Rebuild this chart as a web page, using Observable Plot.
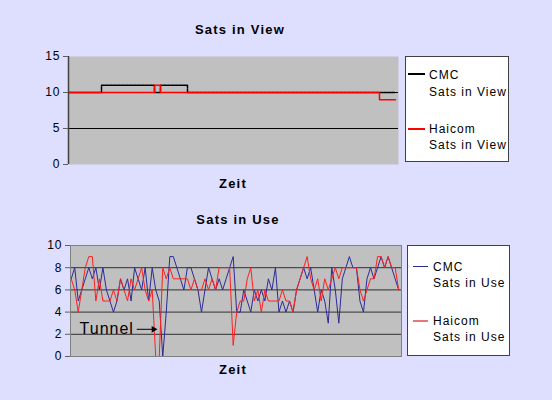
<!DOCTYPE html>
<html><head><meta charset="utf-8">
<script src="https://cdn.jsdelivr.net/npm/d3@7"></script>
<script src="https://cdn.jsdelivr.net/npm/@observablehq/plot@0.6"></script>
<style>
html,body{margin:0;padding:0;background:#dedefe;}
#wrap{position:relative;width:552px;height:400px;background:#dedefe;font-family:"Liberation Sans",Arial,sans-serif;overflow:hidden;color:#000;}
.abs{position:absolute;white-space:nowrap;}
.title{font-weight:bold;font-size:13px;letter-spacing:1.2px;line-height:15px;transform:translateX(-50%);}
.legend{position:absolute;background:#fff;border:1px solid #404040;box-sizing:border-box;}
.lt{position:absolute;font-size:12px;letter-spacing:1px;line-height:16px;white-space:nowrap;}
.ls{position:absolute;height:0;border-top:2px solid #000;}
</style></head>
<body><div id="wrap"></div>
<script>
// ---- Data: Sats in View (step data; Zeit positions in sample units) ----
const zeitView    = [0, 33, 86, 92, 119, 311, 327];
const cmcView     = [10, 11, 10, 11, 10, 10, 10];
const haicomView  = [10, 10, 11, 10, 10, 9, 9];
const viewTicks   = [0, 5, 10, 15];

// ---- Data: Sats in Use (one sample per time step) ----
const cmcUse = [7,8,5,6,7,8,7,8,6,8,6,5,4,5,7,6,7,5,8,7,6,8,5,8,6,5,0,4,9,9,8,7,6,8,8,7,6,4,6,8,7,6,7,6,7,8,9,4,4,6,5,4,6,5,6,5,7,6,8,4,5,4,5,4,6,7,8,7,8,6,4,6,5,3,8,6,3,7,8,9,8,8,5,4,7,8,7,8,9,8,9,8,7,6];
const haicomUse = [7,6,4,6,8,9,9,5,7,5,5,5,6,5,7,6,5,7,6,7,8,6,5,6,0,0,8,7,8,7,7,7,7,7,6,7,6,6,7,6,7,6,8,8,8,8,1,4,5,5,7,8,5,6,4,6,5,5,5,5,6,5,5,4,6,7,8,9,7,6,7,5,7,6,7,8,7,8,8,8,8,8,6,5,6,7,7,9,9,8,9,8,8,6];
const useTicks = [0, 2, 4, 6, 8, 10];
const tunnelLabel = "Tunnel";

const wrap = document.getElementById("wrap");
const font = {fontFamily: "Liberation Sans, Arial, sans-serif", fontSize: "12px", letterSpacing: "1px", background: "transparent", color: "#000", overflow: "visible"};

function place(el, top) { el.style.position = "absolute"; el.style.left = "0px"; el.style.top = top + "px"; wrap.appendChild(el); }
function div(cls, txt, left, top, extra) { const d = document.createElement("div"); d.className = cls; if (txt) d.textContent = txt; d.style.left = left + "px"; d.style.top = top + "px"; if (extra) Object.assign(d.style, extra); wrap.appendChild(d); return d; }

// ---- Panel 1 ----
const viewData = zeitView.flatMap((t, i) => [
  {t, v: cmcView[i], s: "CMC"},
  {t, v: haicomView[i], s: "Haicom"}
]);
const p1 = Plot.plot({
  width: 552, height: 200,
  marginLeft: 68, marginRight: 154, marginTop: 56, marginBottom: 36,
  style: font,
  x: {domain: [0, 330], axis: null},
  y: {domain: [0, 15], ticks: viewTicks, tickSize: 5, tickPadding: 3, label: null},
  marks: [
    Plot.frame({fill: "#c0c0c0", stroke: null}),
    Plot.ruleY([5, 10], {stroke: "#000", strokeWidth: 1}),
    Plot.line(viewData, {filter: d => d.s === "CMC", x: "t", y: "v", curve: "step-after", stroke: "#000", strokeWidth: 1.5, strokeDasharray: "3,1"}),
    Plot.line(viewData, {filter: d => d.s === "Haicom", x: "t", y: "v", curve: "step-after", stroke: "#ff0000", strokeWidth: 1.5}),
    Plot.ruleX([0], {stroke: "#404040", strokeWidth: 1.5}),
    Plot.axisY({ticks: viewTicks, tickSize: 5, tickPadding: 3, stroke: "#606060", fontSize: 12, label: null})
  ]
});
place(p1, 0);

// ---- Panel 2 ----
const useData = cmcUse.map((v, i) => ({t: i, cmc: v, hai: haicomUse[i]}));
const tIdx = haicomUse.indexOf(0);
const tunnel = [{x1: tIdx - 5.4, x2: tIdx - 0.6, y: 2.45, label: tunnelLabel}];
const p2 = Plot.plot({
  width: 552, height: 200,
  marginLeft: 70, marginRight: 151, marginTop: 45, marginBottom: 44,
  style: font,
  x: {domain: [-0.2, cmcUse.length - 0.2], axis: null},
  y: {domain: [0, 10], ticks: useTicks, tickSize: 5, tickPadding: 3, label: null},
  marks: [
    Plot.frame({fill: "#c0c0c0", stroke: null}),
    Plot.ruleY([2, 4, 6, 8], {stroke: "#303030", strokeWidth: 1}),
    Plot.line(useData, {x: "t", y: "cmc", stroke: "#2b2b99", strokeWidth: 1}),
    Plot.line(useData, {x: "t", y: "hai", stroke: "#ff2020", strokeWidth: 1}),
    Plot.link(tunnel, {x1: "x1", x2: "x2", y1: "y", y2: "y", stroke: "#000", strokeWidth: 1}),
    Plot.dot(tunnel, {x: "x2", y: "y", symbol: "triangle2", rotate: 90, r: 3.2, fill: "#000", stroke: null}),
    Plot.text(tunnel, {x: d => d.x1 - 0.8, y: "y", text: "label", textAnchor: "end", fontSize: 16, fill: "#000"}),
    Plot.frame({stroke: "#808080", fill: null}),
    Plot.axisY({ticks: useTicks, tickSize: 5, tickPadding: 3, stroke: "#606060", fontSize: 12, label: null})
  ]
});
place(p2, 200);

// ---- Titles ----
div("abs title", "Sats in View", 240, 22);
div("abs title", "Zeit", 233, 176);
div("abs title", "Sats in Use", 238, 212);
div("abs title", "Zeit", 233, 362);

// ---- Legends ----
div("legend", "", 405, 56, {width: "104px", height: "106px"});
div("ls", "", 408, 73, {width: "17px", borderTopColor: "#000"});
div("lt", "CMC", 429, 67);
div("lt", "Sats in View", 429, 84);
div("ls", "", 408, 128, {width: "17px", borderTopColor: "#ff0000"});
div("lt", "Haicom", 429, 121);
div("lt", "Sats in View", 429, 137);

div("legend", "", 407, 245, {width: "103px", height: "111px"});
div("ls", "", 413, 266, {width: "15px", borderTopColor: "#2b2b99", borderTopWidth: "1px"});
div("lt", "CMC", 433, 259);
div("lt", "Sats in Use", 433, 275);
div("ls", "", 413, 320, {width: "15px", borderTopColor: "#e87878", borderTopWidth: "2px"});
div("lt", "Haicom", 433, 313);
div("lt", "Sats in Use", 433, 329);
</script></body></html>
